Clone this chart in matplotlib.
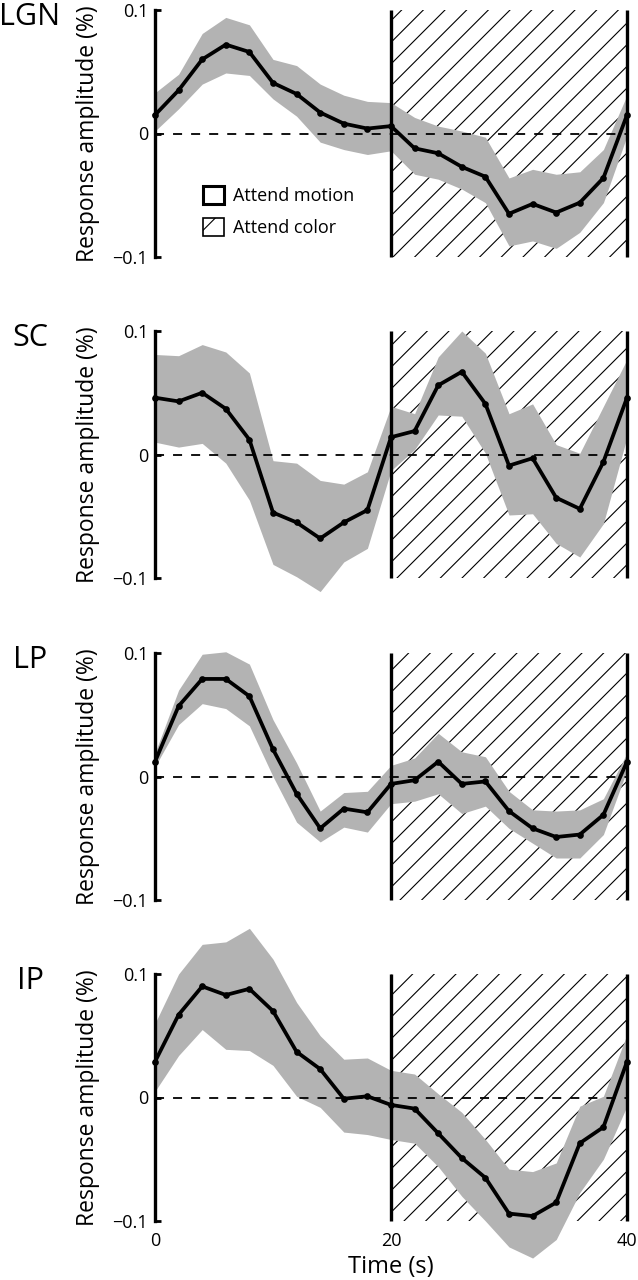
import matplotlib
matplotlib.use("Agg")
import matplotlib.pyplot as plt
from matplotlib.patches import Rectangle, Patch

# Render at a higher dpi (for hatch spacing) while keeping 638x1280 pixels;
# all point sizes are scaled by S so they look as they would at 100 dpi.
DPI = 130
S = 100 / DPI

plt.rcParams['font.family'] = ['Open Sans', 'DejaVu Sans']
plt.rcParams['hatch.linewidth'] = 0.8 * S

# ---------------- data ----------------
time_s = [0, 2, 4, 6, 8, 10, 12, 14, 16, 18, 20, 22, 24, 26, 28, 30, 32, 34, 36, 38, 40]
regions = ["LGN", "SC", "LP", "IP"]

lgn_mean = [0.015, 0.035, 0.060, 0.072, 0.066, 0.041, 0.032, 0.017, 0.008, 0.004, 0.006,
            -0.012, -0.016, -0.027, -0.035, -0.065, -0.057, -0.064, -0.056, -0.036, 0.015]
lgn_upper = [0.033, 0.048, 0.081, 0.094, 0.088, 0.060, 0.055, 0.040, 0.031, 0.026, 0.025,
             0.013, 0.006, 0.002, -0.003, -0.036, -0.029, -0.033, -0.031, -0.013, 0.031]
lgn_lower = [0.002, 0.020, 0.040, 0.049, 0.047, 0.028, 0.014, -0.007, -0.013, -0.017, -0.014,
             -0.033, -0.037, -0.045, -0.056, -0.091, -0.087, -0.093, -0.080, -0.056, -0.002]

sc_mean = [0.046, 0.043, 0.050, 0.037, 0.012, -0.047, -0.055, -0.068, -0.055, -0.045, 0.014,
           0.019, 0.056, 0.067, 0.041, -0.009, -0.003, -0.035, -0.044, -0.006, 0.046]
sc_upper = [0.081, 0.080, 0.089, 0.083, 0.066, -0.005, -0.007, -0.021, -0.024, -0.014, 0.039,
            0.033, 0.079, 0.100, 0.082, 0.033, 0.041, 0.008, 0.001, 0.039, 0.077]
sc_lower = [0.010, 0.006, 0.009, -0.007, -0.037, -0.089, -0.099, -0.111, -0.087, -0.076, -0.013,
            0.004, 0.032, 0.031, 0.001, -0.049, -0.048, -0.072, -0.083, -0.056, 0.014]

lp_mean = [0.012, 0.057, 0.079, 0.079, 0.065, 0.022, -0.014, -0.042, -0.026, -0.029, -0.006,
           -0.003, 0.012, -0.006, -0.004, -0.028, -0.042, -0.049, -0.047, -0.031, 0.012]
lp_upper = [0.019, 0.070, 0.099, 0.101, 0.091, 0.046, 0.011, -0.028, -0.013, -0.012, 0.009,
            0.015, 0.035, 0.020, 0.016, -0.012, -0.027, -0.028, -0.027, -0.018, 0.019]
lp_lower = [0.008, 0.042, 0.059, 0.055, 0.041, 0.000, -0.037, -0.053, -0.041, -0.045, -0.022,
            -0.020, -0.014, -0.030, -0.024, -0.042, -0.054, -0.066, -0.066, -0.047, 0.005]

ip_mean = [0.029, 0.067, 0.090, 0.083, 0.088, 0.070, 0.037, 0.023, -0.001, 0.001, -0.006,
           -0.009, -0.029, -0.049, -0.065, -0.094, -0.096, -0.085, -0.037, -0.024, 0.029]
ip_upper = [0.060, 0.100, 0.124, 0.126, 0.137, 0.112, 0.077, 0.050, 0.031, 0.032, 0.022,
            0.019, 0.003, -0.012, -0.034, -0.058, -0.060, -0.053, -0.007, 0.001, 0.051]
ip_lower = [0.005, 0.034, 0.055, 0.039, 0.038, 0.026, 0.001, -0.008, -0.028, -0.030, -0.034,
            -0.037, -0.056, -0.080, -0.100, -0.121, -0.130, -0.115, -0.077, -0.050, -0.007]

means = [lgn_mean, sc_mean, lp_mean, ip_mean]
uppers = [lgn_upper, sc_upper, lp_upper, ip_upper]
lowers = [lgn_lower, sc_lower, lp_lower, ip_lower]

color_block = (20, 40)
y_ticks = [-0.1, 0, 0.1]
y_ticklabels = ["\u22120.1", "0", "0.1"]
x_ticks = [0, 20, 40]
x_ticklabels = ["0", "20", "40"]
legend_labels = ["Attend motion", "Attend color"]

# ---------------- layout ----------------
W, H = 638, 1280
fig = plt.figure(figsize=(W / DPI, H / DPI), dpi=DPI)

top_px = [10, 331, 653, 974]   # pixel row of y = 0.1
panel_h_px = 247
left_px, right_px = 155, 627

band_color = '#b3b3b3'

for i, name in enumerate(regions):
    bottom = 1 - (top_px[i] + panel_h_px) / H
    ax = fig.add_axes([left_px / W, bottom, (right_px - left_px) / W, panel_h_px / H])
    ax.set_xlim(0, 40)
    ax.set_ylim(-0.1, 0.1)
    ax.patch.set_visible(False)

    # hatched attend-color block
    rect = Rectangle((color_block[0], -0.1), color_block[1] - color_block[0], 0.2,
                     facecolor='white', edgecolor='black', hatch='//', linewidth=0, zorder=1)
    ax.add_patch(rect)

    # SEM band
    ax.fill_between(time_s, lowers[i], uppers[i], color=band_color, linewidth=0,
                    zorder=2, clip_on=False)

    # zero dashed line
    ax.plot([0, 40], [0, 0], color='black', linestyle=(0, (5, 5)), linewidth=1.3 * S, zorder=3)

    # block boundary lines
    for xv in color_block:
        ax.plot([xv, xv], [-0.1, 0.1], color='black', linewidth=2.4 * S, zorder=4,
                clip_on=False, solid_capstyle='butt')

    # mean time course
    ax.plot(time_s, means[i], color='black', linewidth=2.7 * S, marker='o',
            markersize=3.5 * S, zorder=5, clip_on=False)

    # axes styling
    for s in ['top', 'right', 'bottom']:
        ax.spines[s].set_visible(False)
    ax.spines['left'].set_linewidth(2.4 * S)
    ax.spines['left'].set_bounds(-0.1, 0.1)
    ax.spines['left'].set_zorder(6)
    ax.set_yticks(y_ticks)
    ax.set_yticklabels(y_ticklabels)
    ax.tick_params(axis='y', direction='in', length=4 * S, width=2 * S,
                   labelsize=13 * S, pad=5 * S)

    if i == len(regions) - 1:
        ax.set_xticks(x_ticks)
        ax.set_xticklabels(x_ticklabels)
        ax.tick_params(axis='x', length=0, labelsize=13 * S, pad=8 * S)
        ax.set_xlabel("Time (s)", fontsize=17 * S, labelpad=3.5 * S)
    else:
        ax.set_xticks([])

    ax.set_ylabel("Response amplitude (%)", fontsize=16.5 * S)
    ax.yaxis.set_label_coords(-0.117, 0.5)

    fig.text(30 / W, 1 - (top_px[i] + 15) / H, name, fontsize=22 * S,
             ha='center', va='baseline')

    if i == 0:
        handles = [Patch(facecolor='white', edgecolor='black', linewidth=2.2 * S),
                   Patch(facecolor='white', edgecolor='black', linewidth=1.2 * S, hatch='/')]
        ax.legend(handles, legend_labels, loc='upper left',
                  bbox_to_anchor=((203 - left_px) / (right_px - left_px),
                                  (top_px[0] + panel_h_px - 186) / panel_h_px),
                  frameon=False, fontsize=13 * S, borderpad=0, borderaxespad=0,
                  handlelength=1.15, handleheight=1.15, handletextpad=0.5,
                  labelspacing=0.7)

fig.savefig("out.png", dpi=DPI)
